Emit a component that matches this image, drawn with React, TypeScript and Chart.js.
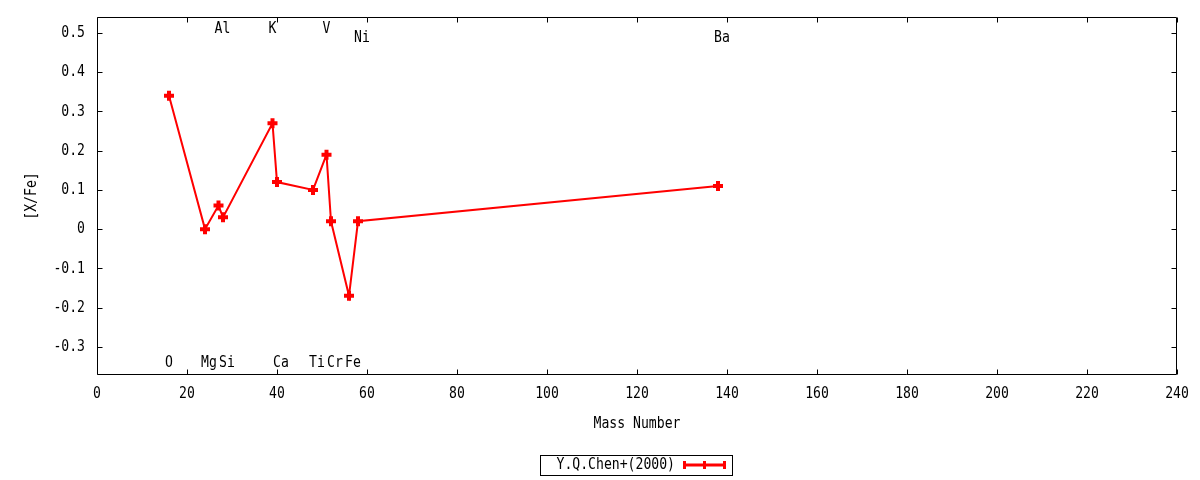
import React, { useEffect, useRef } from "react";
import { Chart, registerables } from "chart.js";

Chart.register(...registerables);

const SERIES_LABEL = "Y.Q.Chen+(2000)";
const X_TITLE = "Mass Number";
const Y_TITLE = "[X/Fe]";

const elements = ["O", "Mg", "Al", "Si", "K", "Ca", "Ti", "V", "Cr", "Fe", "Ni", "Ba"];
const massNumbers = [16, 24, 27, 28, 39, 40, 48, 51, 52, 56, 58, 138];
const xFeValues = [0.34, 0.0, 0.06, 0.03, 0.27, 0.12, 0.1, 0.19, 0.02, -0.17, 0.02, 0.11];
const labelYValues = [-0.34, -0.34, 0.51, -0.34, 0.51, -0.34, -0.34, 0.51, -0.34, -0.34, 0.487, 0.487];

const xTicks = [0, 20, 40, 60, 80, 100, 120, 140, 160, 180, 200, 220, 240];
const yTicks = [-0.3, -0.2, -0.1, 0, 0.1, 0.2, 0.3, 0.4, 0.5];

const X_MIN = 0;
const X_MAX = 240;
const Y_MIN = -0.372;
const Y_MAX = 0.541;

const FONT_FAMILY = '"DejaVu Sans Mono", monospace';
const FONT = `16px ${FONT_FAMILY}`;
const SQUEEZE = 0.82;
const RED = "#ff0000";

function drawText(ctx: CanvasRenderingContext2D, text: string, x: number, y: number, align: CanvasTextAlign, rot = 0) {
  ctx.save();
  ctx.translate(x, y);
  if (rot) ctx.rotate(rot);
  ctx.scale(SQUEEZE, 1);
  ctx.textAlign = align;
  ctx.textBaseline = "middle";
  ctx.fillText(text, 0, 0);
  ctx.restore();
}

const yTickText = (v: number) => String(Number(v.toFixed(1)));

const overlayPlugin = {
  id: "gnuplotOverlay",
  afterDraw(chart: any) {
    const { ctx, chartArea: a, scales } = chart;
    const xs = scales.x;
    const ys = scales.y;
    const L = Math.round(a.left) + 0.5;
    const R = Math.round(a.right) - 0.5;
    const T = Math.round(a.top) + 0.5;
    const B = Math.round(a.bottom) - 0.5;
    const TL = 5;
    ctx.save();
    ctx.strokeStyle = "#000";
    ctx.lineWidth = 1;
    ctx.beginPath();
    ctx.rect(L, T, R - L, B - T);
    for (const v of xTicks) {
      const px = Math.round(xs.getPixelForValue(v)) + 0.5;
      ctx.moveTo(px, B);
      ctx.lineTo(px, B - TL);
      ctx.moveTo(px, T);
      ctx.lineTo(px, T + TL);
    }
    for (const v of yTicks) {
      const py = Math.round(ys.getPixelForValue(v)) + 0.5;
      ctx.moveTo(L, py);
      ctx.lineTo(L + TL, py);
      ctx.moveTo(R, py);
      ctx.lineTo(R - TL, py);
    }
    ctx.stroke();

    ctx.fillStyle = "#000";
    ctx.font = FONT;

    // tick labels
    for (const v of xTicks) {
      drawText(ctx, String(v), xs.getPixelForValue(v), 394, "center");
    }
    for (const v of yTicks) {
      drawText(ctx, yTickText(v), a.left - 12, ys.getPixelForValue(v), "right");
    }

    // element labels
    elements.forEach((name, i) => {
      const px = xs.getPixelForValue(massNumbers[i]) - 4;
      const py = ys.getPixelForValue(labelYValues[i]);
      drawText(ctx, name, px, py, "left");
    });

    // axis titles
    drawText(ctx, X_TITLE, (a.left + a.right) / 2, 424, "center");
    drawText(ctx, Y_TITLE, 32, (a.top + a.bottom) / 2, "center", -Math.PI / 2);

    // legend
    const label = chart.data.datasets[0].label;
    const boxL = 540.5;
    const boxR = 732.5;
    const boxT = 455.5;
    const boxB = 475.5;
    const cy = 465;
    ctx.strokeStyle = "#000";
    ctx.lineWidth = 1;
    ctx.strokeRect(boxL, boxT, boxR - boxL, boxB - boxT);
    drawText(ctx, label, 675, cy, "right");
    const x0 = 683;
    const x1 = 726;
    ctx.strokeStyle = RED;
    ctx.lineWidth = 3;
    ctx.beginPath();
    ctx.moveTo(x0, cy);
    ctx.lineTo(x1, cy);
    for (const mx of [x0 + 1.5, (x0 + x1) / 2, x1 - 1.5]) {
      ctx.moveTo(mx, cy - 4);
      ctx.lineTo(mx, cy + 4);
    }
    ctx.stroke();
    ctx.restore();
  },
};

export default function App() {
  const canvasRef = useRef<HTMLCanvasElement | null>(null);

  useEffect(() => {
    if (!canvasRef.current) return;
    const data = massNumbers.map((m, i) => ({ x: m, y: xFeValues[i] }));
    const chart = new Chart(canvasRef.current, {
      type: "scatter",
      data: {
        datasets: [
          {
            label: SERIES_LABEL,
            data,
            showLine: true,
            borderColor: RED,
            backgroundColor: RED,
            borderWidth: 2,
            pointStyle: "cross",
            pointRadius: 5,
            pointBorderWidth: 4,
            pointBorderColor: RED,
            pointBackgroundColor: RED,
            tension: 0,
          },
        ],
      },
      options: {
        responsive: false,
        animation: false,
        devicePixelRatio: 1,
        layout: { padding: { top: 17, right: 23, left: 0, bottom: 0 } },
        plugins: {
          legend: { display: false },
          tooltip: { enabled: false },
        },
        scales: {
          x: {
            type: "linear",
            min: X_MIN,
            max: X_MAX,
            grid: { display: false, drawTicks: false },
            border: { display: false },
            afterBuildTicks: (s: any) => {
              s.ticks = xTicks.map((v) => ({ value: v }));
            },
            afterFit: (s: any) => {
              s.height = 105;
              s.paddingLeft = 0;
              s.paddingRight = 0;
              s.paddingTop = 0;
              s.paddingBottom = 0;
            },
            ticks: { display: false },
          },
          y: {
            type: "linear",
            min: Y_MIN,
            max: Y_MAX,
            grid: { display: false, drawTicks: false },
            border: { display: false },
            afterBuildTicks: (s: any) => {
              s.ticks = yTicks.map((v) => ({ value: v }));
            },
            afterFit: (s: any) => {
              s.width = 97;
              s.paddingLeft = 0;
              s.paddingRight = 0;
              s.paddingTop = 0;
              s.paddingBottom = 0;
            },
            ticks: { display: false },
          },
        },
      },
      plugins: [overlayPlugin],
    });
    return () => chart.destroy();
  }, []);

  return (
    <div style={{ position: "fixed", left: 0, top: 0, width: 1200, height: 480, background: "#fff" }}>
      <canvas ref={canvasRef} width={1200} height={480} style={{ width: 1200, height: 480 }} />
    </div>
  );
}
